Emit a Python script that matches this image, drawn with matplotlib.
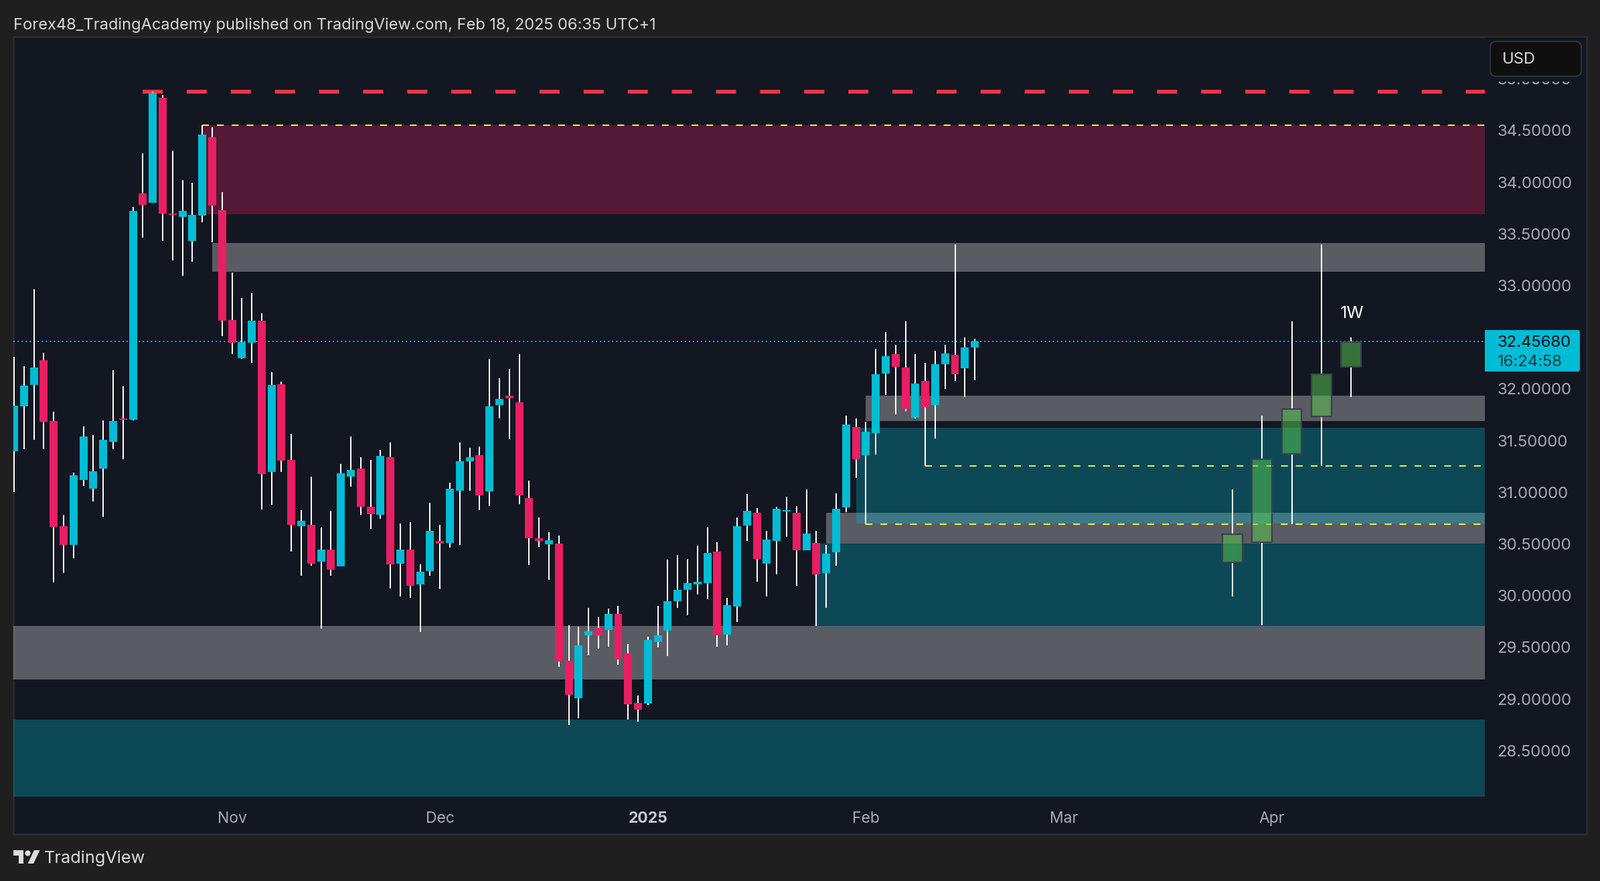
#-*- coding:utf-8 -*-

import numpy as np
import matplotlib
matplotlib.use("Agg")
import matplotlib.pyplot as plt
from matplotlib.patches import Rectangle, Polygon, Circle, FancyBboxPatch


# Daily candles, one value per session
opens = [
	31.397, 31.830, 32.038, 32.279, 31.688, 30.670, 30.491, 31.119, 31.033, 31.228,
	31.486, 31.714, 31.701, 33.892, 33.799, 34.817, 33.697, 33.664, 33.429, 33.677,
	34.434, 33.730, 32.666, 32.296, 32.444, 32.659, 31.195, 32.045, 31.311, 30.670,
	30.683, 30.329, 30.445, 30.284, 31.151, 31.229, 30.858, 30.780, 31.339, 30.308,
	30.445, 30.109, 30.238, 30.528, 30.509, 31.014, 31.299, 31.358, 31.009, 31.844,
	31.935, 31.871, 30.944, 30.555, 30.496, 30.504, 29.371, 29.008, 29.615, 29.687,
	29.669, 29.822, 29.440, 28.962, 28.954, 29.550, 29.660, 29.945, 30.055, 30.106,
	30.120, 30.426, 29.620, 29.894, 30.678, 30.799, 30.308, 30.528, 30.812, 30.799,
	30.436, 30.509, 30.216, 30.418, 30.853, 31.629, 31.357, 31.572, 32.147, 32.335,
	32.206, 31.720, 32.077, 31.844, 32.238, 32.330, 32.201, 32.399,
]
highs = [
	32.309, 32.220, 32.963, 32.349, 31.780, 30.782, 31.189, 31.635, 31.552, 31.694,
	32.180, 32.025, 33.760, 34.279, 34.873, 34.844, 34.305, 34.021, 33.994, 34.553,
	34.533, 33.902, 33.125, 32.881, 32.927, 32.732, 32.160, 32.071, 31.565, 30.825,
	31.149, 30.660, 30.821, 31.274, 31.540, 31.339, 31.312, 31.409, 31.481, 30.697,
	30.710, 30.302, 30.898, 30.684, 31.092, 31.481, 31.430, 31.444, 32.292, 32.104,
	32.193, 32.335, 31.113, 30.756, 30.614, 30.582, 29.712, 29.701, 29.881, 29.789,
	29.875, 29.900, 29.532, 29.032, 29.602, 29.899, 30.348, 30.393, 30.353, 30.482,
	30.665, 30.514, 29.977, 30.756, 30.982, 30.845, 30.624, 30.858, 30.955, 30.866,
	31.027, 30.624, 30.490, 30.987, 31.739, 31.715, 31.682, 32.386, 32.550, 32.426,
	32.652, 32.335, 32.252, 32.367, 32.426, 33.398, 32.499, 32.488,
]
lows = [
	30.999, 31.417, 31.506, 31.417, 30.125, 30.217, 30.359, 31.060, 30.911, 30.762,
	31.417, 31.318, 31.694, 33.462, 33.799, 33.429, 33.244, 33.092, 33.231, 33.611,
	33.416, 32.511, 32.335, 32.289, 32.253, 30.832, 30.878, 31.195, 30.425, 30.191,
	30.290, 29.679, 30.190, 30.284, 31.054, 30.780, 30.646, 30.743, 30.069, 29.991,
	29.977, 29.647, 30.192, 30.063, 30.463, 30.490, 31.014, 30.826, 30.866, 31.715,
	31.513, 30.885, 30.297, 30.472, 30.152, 29.312, 28.748, 28.812, 29.422, 29.486,
	29.505, 29.330, 28.799, 28.780, 28.941, 29.499, 29.413, 29.881, 29.808, 30.010,
	29.964, 29.505, 29.518, 29.744, 30.528, 30.133, 29.991, 30.206, 30.568, 30.095,
	30.436, 29.706, 29.881, 30.289, 30.807, 31.137, 30.692, 31.363, 31.940, 31.752,
	31.784, 31.715, 31.255, 31.519, 32.000, 32.077, 31.921, 32.083,
]
closes = [
	31.836, 32.031, 32.206, 31.681, 30.663, 30.491, 31.162, 31.539, 31.202, 31.506,
	31.688, 31.704, 33.723, 33.780, 34.863, 33.697, 33.684, 33.723, 33.684, 34.460,
	33.773, 32.659, 32.444, 32.451, 32.659, 31.175, 32.038, 31.308, 30.683, 30.723,
	30.310, 30.445, 30.251, 31.183, 31.215, 30.858, 30.788, 31.352, 30.302, 30.445,
	30.096, 30.230, 30.627, 30.504, 31.035, 31.299, 31.339, 30.968, 31.830, 31.903,
	31.908, 30.968, 30.555, 30.528, 30.536, 29.360, 29.040, 29.518, 29.655, 29.615,
	29.822, 29.381, 28.949, 28.895, 29.569, 29.615, 29.945, 30.055, 30.120, 30.133,
	30.412, 29.615, 29.908, 30.670, 30.820, 30.353, 30.541, 30.839, 30.826, 30.436,
	30.600, 30.206, 30.404, 30.839, 31.656, 31.317, 31.583, 32.142, 32.316, 32.211,
	31.803, 32.050, 31.825, 32.238, 32.343, 32.142, 32.399, 32.4568,
]

# Projected weekly candles drawn on the right
week_pos = [123, 126, 129, 132, 135]
week_top = [30.595, 31.319, 31.807, 32.142, 32.454]
week_bottom = [30.323, 30.514, 31.371, 31.733, 32.211]
week_high = [31.027, 31.740, 32.652, 33.396, 32.496]
week_low = [29.993, 29.711, 30.692, 31.257, 31.924]

# Zones: start session (None = from the left edge), top price, bottom price
red_zone = (19, 34.550, 33.690)
grey_zones = [(20, 33.413, 33.132), (86, 31.935, 31.690), (82, 30.799, 30.504), (None, 29.706, 29.188)]
teal_zones = [(85, 31.623, 30.697), (81, 30.504, 29.709), (None, 28.799, 28.055)]

# Horizontal levels
resistance = (13, 34.877)
yellow_levels = [(19, 34.553), (92, 31.255), (86, 30.692)]
last_price = 32.4568

# 32.5 is not listed: the price label covers that spot
price_ticks = [28.5, 29.0, 29.5, 30.0, 30.5, 31.0, 31.5, 32.0, 33.0, 33.5, 34.0, 34.5, 35.0]
date_pos = [22, 43, 64, 86, 106, 127]
date_labels = ["Nov", "Dec", "2025", "Feb", "Mar", "Apr"]

WIDTH, HEIGHT = 2390, 1316
CYAN = "#00bcd4"
PINK = "#e91e63"
PANEL = "#131722"
FRAME = "#1f1f1f"
TICK_GREY = "#a9acb6"
plt.rcParams["font.family"] = "Inter"

fig = plt.figure(figsize=(WIDTH / 100, HEIGHT / 100), dpi=100, facecolor=FRAME)

# Panel behind the chart
bg = fig.add_axes([0, 0, 1, 1], zorder=0)
bg.set_xlim(0, WIDTH)
bg.set_ylim(HEIGHT, 0)
bg.axis("off")
bg.add_patch(Rectangle((20, 55), 2350, 1191, facecolor=PANEL, edgecolor="#2e2e2e", linewidth=1.8))

# Chart area, left 20 px to 2218 px, top 55 px to 1200 px
ax = fig.add_axes([20 / WIDTH, 1 - 1200 / HEIGHT, 2198 / WIDTH, 1145 / HEIGHT], zorder=1)
ax.patch.set_alpha(0)
x_left, x_right = -0.07, 148.5
ax.set_xlim(x_left, x_right)
ax.set_ylim(27.990, 35.406)
for spine in ax.spines.values():
	spine.set_visible(False)


def add_zone(start, top, bottom, color, zorder):
	x0 = x_left if start is None else start
	ax.add_patch(Rectangle((x0, bottom), x_right - x0, top - bottom, facecolor=color, linewidth=0, zorder=zorder))


# Zones, teal goes above the grey ones
add_zone(*red_zone, (233 / 255, 30 / 255, 99 / 255, 0.3), 1)
for zone in grey_zones:
	add_zone(*zone, (1, 1, 1, 0.3), 1)
for zone in teal_zones:
	add_zone(*zone, (0, 188 / 255, 212 / 255, 0.3), 1.5)

# Levels
ax.hlines(resistance[1], resistance[0], x_right, color="#f23645", linewidth=4.1, linestyle=(0, (5.27, 6.3)), zorder=2)
for start, level in yellow_levels:
	ax.hlines(level, start, x_right, color="#ffeb3b", linewidth=1.45, linestyle=(0, (5, 6)), zorder=2)
ax.axhline(last_price, color=CYAN, linewidth=1.45, linestyle=(0, (1, 2)), zorder=2)

# Daily candles
x = np.arange(len(opens))
opens_arr, closes_arr = np.array(opens), np.array(closes)
colors = [CYAN if c >= o else PINK for o, c in zip(opens, closes)]
ax.vlines(x, lows, highs, color="white", linewidth=1.45, zorder=3)
ax.bar(x, np.abs(closes_arr - opens_arr), bottom=np.minimum(opens_arr, closes_arr), width=0.81, color=colors, linewidth=0, zorder=4)

# Weekly candles, wicks stop at the body since the body is see-through
ax.vlines(week_pos, week_top, week_high, color="white", linewidth=1.45, zorder=3)
ax.vlines(week_pos, week_low, week_bottom, color="white", linewidth=1.45, zorder=3)
ax.bar(
	week_pos,
	np.array(week_top) - np.array(week_bottom),
	bottom=week_bottom,
	width=2.0,
	facecolor=(89 / 255, 205 / 255, 78 / 255, 0.5),
	edgecolor="#3b404c",
	linewidth=1.6,
	zorder=4
)
ax.text(week_pos[-1] + 0.1, 32.73, "1W", color="white", fontsize=18.5, ha="center", va="center", zorder=5)

# Axes ticks
ax.yaxis.tick_right()
ax.set_yticks(price_ticks)
ax.set_yticklabels([f"{tick:.5f}" for tick in price_ticks])
ax.tick_params(axis="y", length=0, pad=13.5, labelsize=17.2, labelcolor=TICK_GREY)
for label in ax.get_yticklabels():
	label.set_verticalalignment("center_baseline")
ax.set_xticks(date_pos)
ax.set_xticklabels(date_labels)
ax.tick_params(axis="x", length=0, pad=8.5, labelsize=16.5, labelcolor=TICK_GREY)
for label in ax.get_xticklabels():
	if label.get_text() == "2025":
		label.set_fontweight("bold")
		label.set_color("#c8cad2")

# Overlay: price label, currency box, header and logo
top = fig.add_axes([0, 0, 1, 1], zorder=2)
top.set_xlim(0, WIDTH)
top.set_ylim(HEIGHT, 0)
top.axis("off")
top.patch.set_alpha(0)

top.add_patch(FancyBboxPatch((2220, 495), 138, 58, boxstyle="round,pad=2,rounding_size=3", facecolor=CYAN, linewidth=0))
top.add_patch(Rectangle((2218, 493), 12, 62, facecolor=CYAN, linewidth=0))
top.text(2237, 512, "32.45680", color="#0b0e14", fontsize=17.2, va="center", ha="left")
top.text(2237, 541, "16:24:58", color="#083e4b", fontsize=17.2, va="center", ha="left")

# Panel colour around the currency box hides most of the top tick label
top.add_patch(Rectangle((2219, 56), 150, 66, facecolor=PANEL, linewidth=0))
top.add_patch(FancyBboxPatch((2232, 68), 124, 40, boxstyle="round,pad=6,rounding_size=9", facecolor="#0f0f0f", edgecolor="#35373c", linewidth=1.3))
top.text(2244, 89, "USD", color="#dcdcdc", fontsize=17, va="center", ha="left")

top.text(20, 38, "Forex48_TradingAcademy published on TradingView.com, Feb 18, 2025 06:35 UTC+1", color="#d9d9d9", fontsize=17.0, va="center", ha="left")

top.add_patch(Polygon([(20, 1270), (35, 1270), (35, 1290), (28, 1290), (28, 1278), (20, 1278)], facecolor="#dddddd", linewidth=0))
top.add_patch(Circle((41.5, 1274.5), 4.2, facecolor="#dddddd", linewidth=0))
top.add_patch(Polygon([(51, 1270), (59.5, 1270), (50, 1290), (41.5, 1290)], facecolor="#dddddd", linewidth=0))
top.text(66, 1282.5, "TradingView", color="#dddddd", fontsize=18.2, va="center", ha="left")

fig.savefig("out.png", dpi=100, facecolor=FRAME)
